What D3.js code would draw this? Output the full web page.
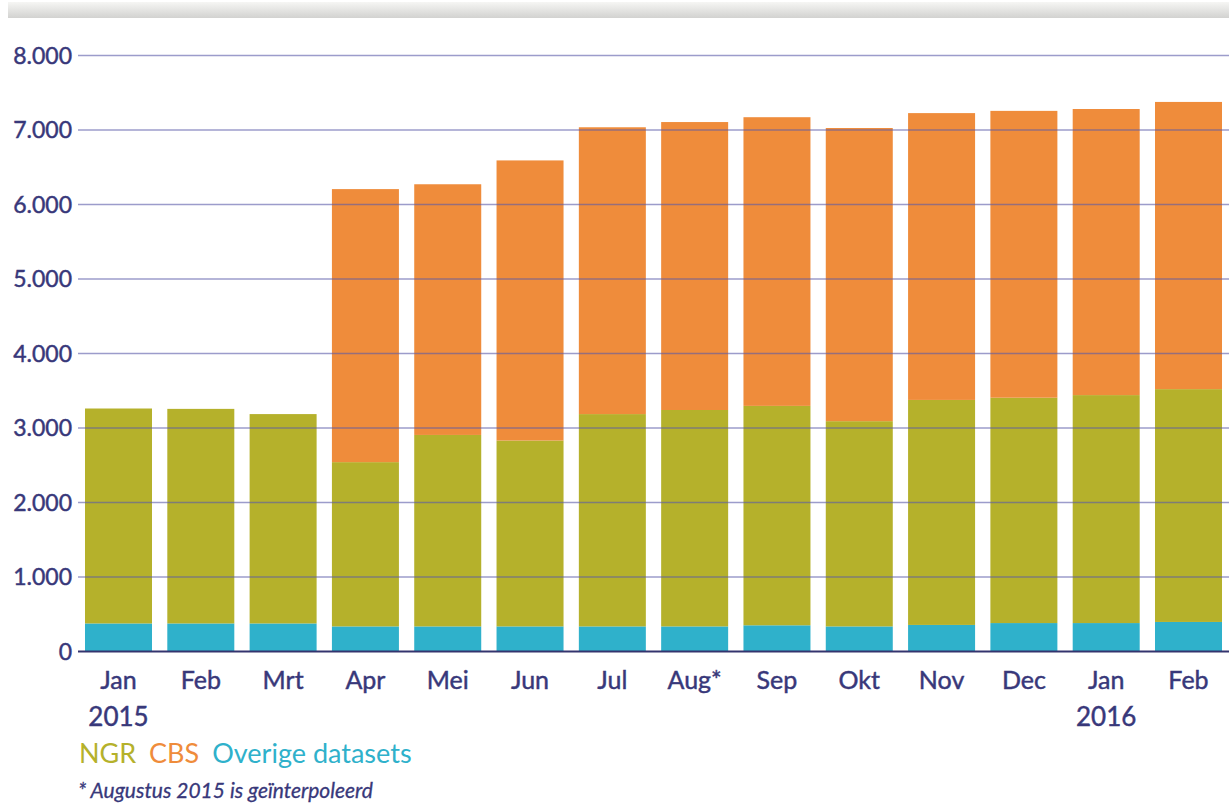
<!DOCTYPE html>
<html><head><meta charset="utf-8">
<script src="https://cdn.jsdelivr.net/npm/d3@7"></script>
<style>html,body{margin:0;padding:0;background:#fff;}svg{display:block;}</style>
</head><body>
<script>
const months = ["Jan","Feb","Mrt","Apr","Mei","Jun","Jul","Aug*","Sep","Okt","Nov","Dec","Jan","Feb"];
const yearLabels = ["2015","","","","","","","","","","","","2016",""];
const overige = [370,370,370,330,330,330,330,330,345,330,350,375,375,390];
const ngr = [2885,2880,2810,2205,2570,2495,2850,2905,2945,2755,3020,3025,3060,3125];
const cbs = [0,0,0,3665,3365,3760,3850,3865,3875,3935,3850,3850,3840,3855];
const yTicks = [0,1000,2000,3000,4000,5000,6000,7000,8000];
const seriesNames = ["Overige datasets","NGR","CBS"];
const legendOrder = ["NGR","CBS","Overige datasets"];

const W=1229,H=805;
const colors = {"NGR":"#b5b12b","CBS":"#ef8c3b","Overige datasets":"#2fb1cb"};
const navy="#38387a";
const fontF="Lato, 'Open Sans', sans-serif";

const svg=d3.select("body").append("svg").attr("width",W).attr("height",H);
const defs=svg.append("defs");
const g=defs.append("linearGradient").attr("id","topg").attr("x1",0).attr("y1",0).attr("x2",0).attr("y2",1);
g.append("stop").attr("offset","0%").attr("stop-color","#f6f6f4");
g.append("stop").attr("offset","100%").attr("stop-color","#d2d2d0");
svg.append("rect").attr("x",8).attr("y",2).attr("width",W-8).attr("height",16).attr("fill","url(#topg)");

const idx=d3.range(months.length);
const x=d3.scaleBand().domain(idx).range([78,1229]).paddingInner(0.186).paddingOuter(0.085);
const y=d3.scaleLinear().domain([0,8000]).range([651,55]);

const rows=idx.map(i=>({i,"Overige datasets":overige[i],"NGR":ngr[i],"CBS":cbs[i]}));
const stack=d3.stack().keys(seriesNames)(rows);

svg.append("g").selectAll("g").data(stack).join("g").attr("fill",d=>colors[d.key])
  .selectAll("rect").data(d=>d).join("rect")
  .attr("x",d=>x(d.data.i)).attr("width",x.bandwidth())
  .attr("y",d=>y(d[1])).attr("height",d=>y(d[0])-y(d[1]));

const yAxis=d3.axisLeft(y).tickValues(yTicks).tickSize(0).tickPadding(6)
  .tickFormat(d=>d3.format(",")(d).replace(/,/g,"."));
const ya=svg.append("g").attr("transform","translate(78,0)").call(yAxis);
ya.select(".domain").remove();
ya.selectAll("text").attr("fill",navy).attr("font-family",fontF).attr("font-size",23)
  .attr("stroke",navy).attr("stroke-width",0.45).attr("dy","0.36em");
svg.append("g").selectAll("line").data(yTicks.filter(d=>d>0)).join("line")
  .attr("x1",78).attr("x2",1229).attr("y1",d=>y(d)+0.5).attr("y2",d=>y(d)+0.5)
  .attr("stroke","#5a5aa8").attr("stroke-opacity",0.6).attr("stroke-width",1.3);
svg.append("line").attr("x1",78).attr("x2",1229).attr("y1",y(0)+0.5).attr("y2",y(0)+0.5)
  .attr("stroke","#34346e").attr("stroke-width",2.2);

const xl=svg.append("g");
xl.selectAll("text.m").data(idx).join("text").attr("class","m")
  .attr("x",i=>x(i)+x.bandwidth()/2).attr("y",689).attr("text-anchor","middle")
  .attr("fill",navy).attr("stroke",navy).attr("stroke-width",0.45)
  .attr("font-family",fontF).attr("font-size",25).text(i=>months[i]);
xl.selectAll("text.yr").data(idx.filter(i=>yearLabels[i])).join("text").attr("class","yr")
  .attr("x",i=>x(i)+x.bandwidth()/2).attr("y",726).attr("text-anchor","middle")
  .attr("fill",navy).attr("stroke",navy).attr("stroke-width",0.45)
  .attr("font-family",fontF).attr("font-size",26).text(i=>yearLabels[i]);

const leg=svg.append("text").attr("x",79).attr("y",763).attr("font-family",fontF).attr("font-size",27);
legendOrder.forEach((k,j)=>{
  leg.append("tspan").attr("fill",colors[k]).attr("dx",j===0?0:13).text(k);
});
svg.append("text").attr("x",78).attr("y",798).attr("font-family",fontF).attr("font-size",21)
  .attr("font-style","italic").attr("fill",navy).attr("stroke",navy).attr("stroke-width",0.3)
  .text("* Augustus 2015 is geïnterpoleerd");
</script>
</body></html>
